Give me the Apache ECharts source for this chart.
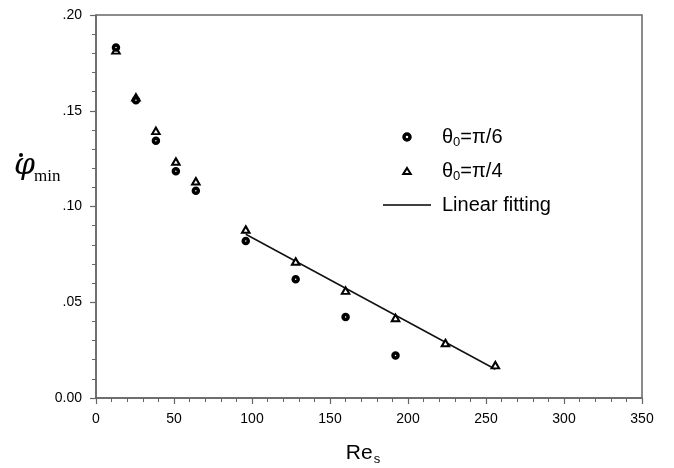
<!DOCTYPE html>
<html><head><meta charset="utf-8">
<script src="https://cdn.jsdelivr.net/npm/echarts@6/dist/echarts.min.js"></script>
<style>html,body{margin:0;padding:0;background:#fff}#c{width:674px;height:468px}</style>
</head><body><div id="c"></div>
<script>
var reCircle = [12.8, 25.6, 38.4, 51.2, 64, 96, 128, 160, 192];
var phiCircle = [0.183, 0.1555, 0.1343, 0.1184, 0.1082, 0.082, 0.062, 0.0423, 0.0222];
var reTri = [12.8, 25.6, 38.4, 51.2, 64, 96, 128, 160, 192, 224, 256];
var phiTri = [0.1815, 0.157, 0.1395, 0.1235, 0.1132, 0.088, 0.0713, 0.0561, 0.0418, 0.0287, 0.0172];
var reFit = [96, 256];
var phiFit = [0.0855, 0.0150];
var xTicks = [0, 50, 100, 150, 200, 250, 300, 350];
var yTicks = [0, 0.05, 0.10, 0.15, 0.20];

function pairs(a, b) { return a.map(function (v, i) { return [v, b[i]]; }); }
var FONT = '"Liberation Sans", Arial, sans-serif';
var chart = echarts.init(document.getElementById('c'), null, { renderer: 'canvas' });
chart.setOption({
  animation: false,
  backgroundColor: '#fff',
  grid: { left: 96, right: 32, top: 15, bottom: 70, containLabel: false, outerBoundsMode: 'none',
    show: true, borderColor: '#666', borderWidth: 1.5 },
  xAxis: {
    type: 'value', min: 0, max: 350, interval: 50,
    name: '{r|Re}{s|s}', nameLocation: 'middle', nameGap: 43,
    nameTextStyle: { padding: [0, 12, 0, 0], rich: { r: { fontFamily: FONT, fontSize: 21, color: '#000' }, s: { fontFamily: FONT, fontSize: 13, color: '#000', verticalAlign: 'bottom', padding: [12, 0, 0, 1] } } },
    axisLine: { lineStyle: { color: '#666', width: 1.5 } },
    axisTick: { inside: false, length: 6, lineStyle: { color: '#666', width: 1.2 } },
    minorTick: { show: true, splitNumber: 5, length: 4, lineStyle: { color: '#666', width: 1 } },
    splitLine: { show: false },
    axisLabel: { margin: 14, fontFamily: FONT, fontSize: 14, color: '#000' }
  },
  yAxis: {
    type: 'value', min: 0, max: 0.2, interval: 0.05,
    axisLine: { lineStyle: { color: '#666', width: 1.5 } },
    axisTick: { inside: false, length: 6, lineStyle: { color: '#666', width: 1.2 } },
    minorTick: { show: true, splitNumber: 5, length: 4, lineStyle: { color: '#666', width: 1 } },
    splitLine: { show: false },
    axisLabel: { margin: 14, fontFamily: FONT, fontSize: 14, color: '#000',
      formatter: function (v) { return v === 0 ? '0.00' : v.toFixed(2).replace(/^0/, ''); } }
  },
  legend: {
    orient: 'vertical', left: 378, top: 122, itemWidth: 48, itemHeight: 6, itemGap: 12,
    symbolKeepAspect: true,
    textStyle: { fontFamily: FONT, fontSize: 20, color: '#000', padding: [0, 0, 0, 6],
      rich: { b: { fontFamily: FONT, fontSize: 20, color: '#000' }, sub: { fontFamily: FONT, fontSize: 13, color: '#000', verticalAlign: 'bottom', padding: [11, 0, 0, 0] } } },
    formatter: function (n) {
      if (n === 'c') return '{b|θ}{sub|0}{b|=π/6}';
      if (n === 't') return '{b|θ}{sub|0}{b|=π/4}';
      return 'Linear fitting';
    },
    data: [
      { name: 'c', icon: 'circle', itemStyle: { color: '#fff', borderColor: '#000', borderWidth: 3.5 } },
      { name: 't', icon: 'path://M5,0L10,8L0,8Z', itemStyle: { color: '#fff', borderColor: '#000', borderWidth: 2 } },
      { name: 'Linear fitting', icon: 'path://M0,0L48,0L48,1.3L0,1.3Z', itemStyle: { color: '#000', borderWidth: 0 } }
    ]
  },
  series: [
    { name: 'Linear fitting', type: 'line', data: pairs(reFit, phiFit), showSymbol: false, symbol: 'none',
      lineStyle: { color: '#111', width: 1.5 }, itemStyle: { color: '#111' }, z: 1 },
    { name: 't', type: 'scatter', data: pairs(reTri, phiTri), symbol: 'triangle', symbolSize: [7.5, 6.5],
      itemStyle: { color: '#fff', borderColor: '#000', borderWidth: 2, opacity: 1 }, z: 2 },
    { name: 'c', type: 'scatter', data: pairs(reCircle, phiCircle), symbol: 'circle', symbolSize: 5,
      itemStyle: { color: '#fff', borderColor: '#000', borderWidth: 3.5, opacity: 1 }, z: 3 }
  ],
  graphic: [
    { type: 'text', left: 14, top: 151, style: { text: 'φ', font: 'italic 30px "DejaVu Serif", serif', fill: '#000' } },
    { type: 'circle', shape: { cx: 21, cy: 155, r: 2 }, style: { fill: '#000' } },
    { type: 'text', left: 34, top: 168, style: { text: 'min', font: '17px "Liberation Serif", serif', fill: '#000' } }
  ]
});
</script></body></html>
